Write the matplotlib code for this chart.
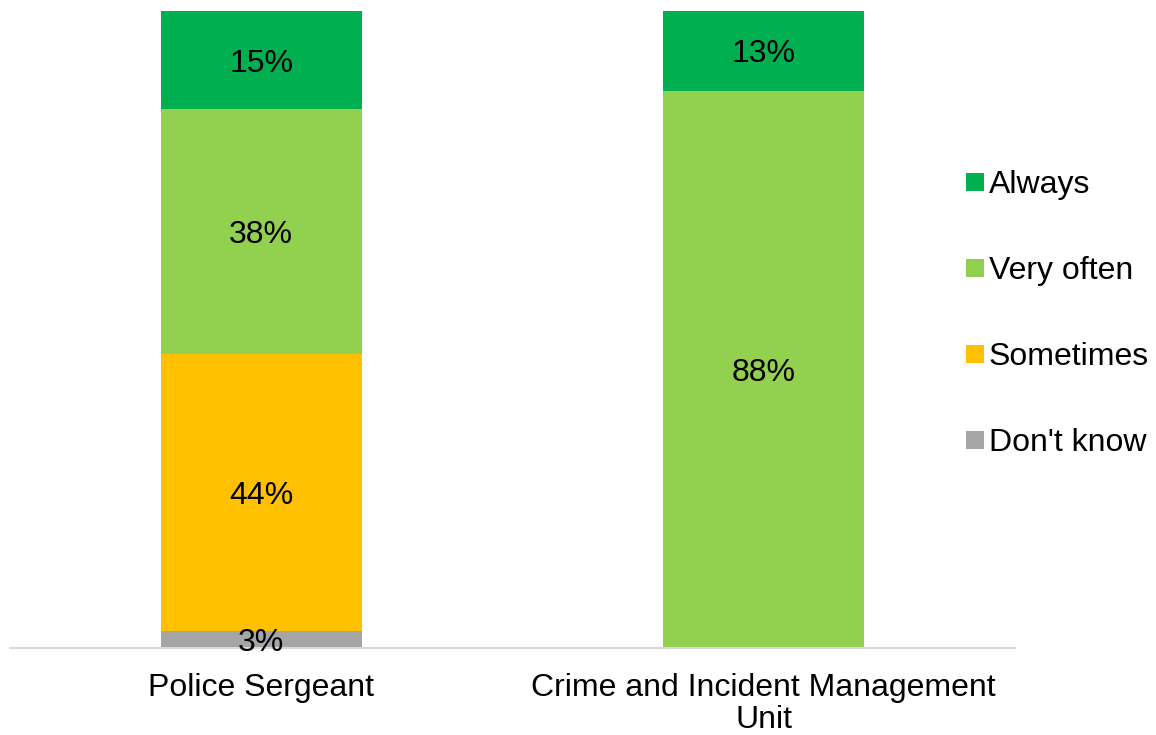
import matplotlib
matplotlib.use("Agg")
import matplotlib.pyplot as plt
from matplotlib.lines import Line2D

plt.rcParams['font.family'] = ['Liberation Sans', 'DejaVu Sans']

categories = ["Police Sergeant", "Crime and Incident Management\nUnit"]
series_names = ["Don't know", "Sometimes", "Very often", "Always"]
dont_know = [2.6, 0.0]
sometimes = [43.6, 0.0]
very_often = [38.4, 87.5]
always = [15.4, 12.5]
colors = ["#A5A5A5", "#FFC000", "#92D050", "#00B050"]

series = [dont_know, sometimes, very_often, always]

FS = 23

fig = plt.figure(figsize=(11.56, 7.35), dpi=100)
ax = fig.add_axes([10/1156, 1-648/735, (1015-10)/1156, (648-11)/735])

x = list(range(len(categories)))
bottoms = [0.0] * len(categories)
for name, vals, col in zip(series_names, series, colors):
    ax.bar(x, vals, width=0.4, bottom=bottoms, color=col, label=name, zorder=2)
    for i, v in enumerate(vals):
        if v > 0:
            ax.text(x[i], bottoms[i] + v / 2, f"{int(v + 0.5)}%", ha='center', va='center_baseline',
                    fontsize=FS, color='black', zorder=4)
    bottoms = [b + v for b, v in zip(bottoms, vals)]

ax.set_xlim(-0.5, 1.5)
ax.set_ylim(0, 100)
ax.set_yticks([])
ax.set_xticks(x)
ax.set_xticklabels(categories, fontsize=FS, linespacing=1.08)
ax.tick_params(axis='x', length=0, pad=18)
for s in ['top', 'right', 'left']:
    ax.spines[s].set_visible(False)
ax.spines['bottom'].set_color('#D9D9D9')
ax.spines['bottom'].set_linewidth(1.5)
ax.spines['bottom'].set_zorder(3)

handles = [Line2D([], [], marker='s', linestyle='none', markersize=12.5, color=c,
                  markeredgewidth=0) for c in reversed(colors)]
labels = list(reversed(series_names))
fig.legend(handles, labels, loc='center left', bbox_to_anchor=(949/1156, 1-314/735),
           frameon=False, fontsize=FS, labelspacing=1.75, handlelength=0.6,
           handletextpad=0.15, borderpad=0)

fig.savefig("out.png", dpi=100)
